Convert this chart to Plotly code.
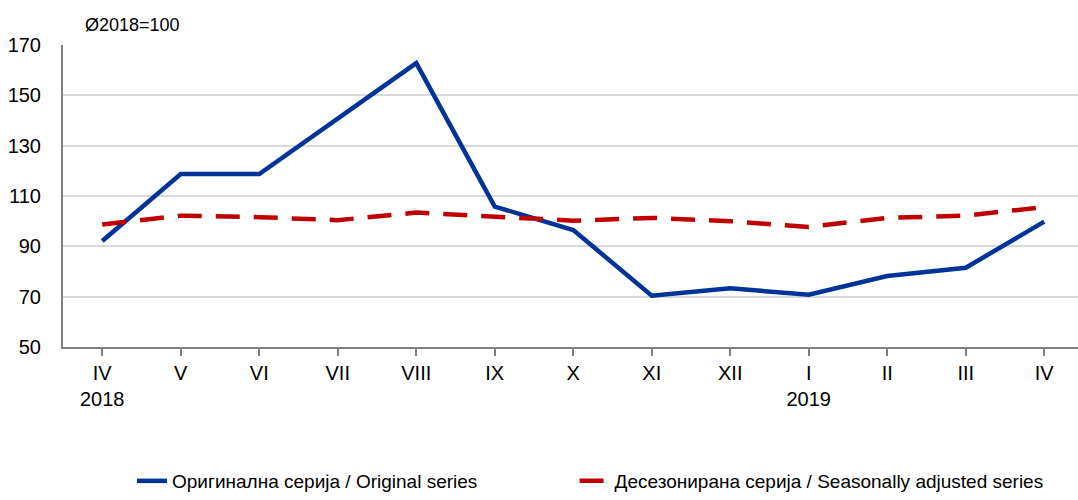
import plotly.graph_objects as go

# Data
months = ["IV<br>2018", "V", "VI", "VII", "VIII", "IX", "X", "XI", "XII", "I<br>2019", "II", "III", "IV"]
original = [92.1, 118.7, 118.7, 140.8, 162.8, 105.8, 96.5, 70.4, 73.3, 70.8, 78.2, 81.5, 99.8]
adjusted = [98.7, 102.2, 101.6, 100.4, 103.4, 101.6, 100.2, 101.3, 100.0, 97.7, 101.3, 102.2, 105.6]
y_ticks = [50, 70, 90, 110, 130, 150, 170]

names = ["Оригинална серија / Original series", "Десезонирана серија / Seasonally adjusted series"]

x = list(range(len(months)))

fig = go.Figure()

fig.add_trace(go.Scatter(
    x=x, y=original, mode="lines", name=names[0], legend="legend",
    line=dict(color="#003399", width=4.5),
))

fig.add_trace(go.Scatter(
    x=x, y=adjusted, mode="lines", name=names[1], legend="legend2",
    line=dict(color="#C00000", width=4.5, dash="24px,14px"),
))

leg = dict(yref="container", y=0, yanchor="bottom", xanchor="left",
           font=dict(size=19), bgcolor="rgba(0,0,0,0)")

fig.update_layout(
    width=1078, height=500,
    margin=dict(l=63, r=0, t=45, b=153),
    plot_bgcolor="white", paper_bgcolor="white",
    font=dict(family="Arial, Liberation Sans", size=20, color="black"),
    showlegend=True,
    legend=dict(leg, x=0.068),
    legend2=dict(leg, x=0.504),
    annotations=[dict(
        text="Ø2018=100", x=0.02, xref="paper", y=1, yref="paper",
        yshift=8, showarrow=False, xanchor="left", yanchor="bottom",
        font=dict(size=18),
    )],
)

fig.update_xaxes(
    range=[-0.5, 12.43],
    tickvals=x, ticktext=months, tickson="boundaries",
    showline=True, linecolor="#808080", linewidth=2,
    ticks="outside", ticklen=7, tickcolor="#808080", tickwidth=1.5,
    showgrid=False, zeroline=False,
)

fig.update_yaxes(
    range=[50, 170], tickvals=y_ticks,
    showline=True, linecolor="#808080", linewidth=2,
    showgrid=True, gridcolor="#D9D9D9", gridwidth=1.5,
    zeroline=False, ticks="", ticklabelstandoff=16,
)

fig.write_html("out.html", config={"displayModeBar": False},
               post_script="document.body.style.margin='0';")
